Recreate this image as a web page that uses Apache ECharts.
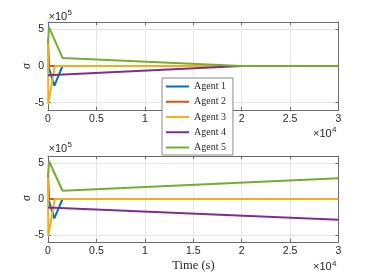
<!DOCTYPE html>
<html><head><meta charset="utf-8">
<script src="https://cdn.jsdelivr.net/npm/echarts@6/dist/echarts.min.js"></script>
<style>html,body{margin:0;padding:0;background:#fff}#c{width:374px;height:280px}</style>
</head><body><div id="c"></div>
<script>
const agentNames = ['Agent 1', 'Agent 2', 'Agent 3', 'Agent 4', 'Agent 5'];
const agentColors = ['#0072BD', '#D95319', '#EDB120', '#7E2F8E', '#77AC30'];
const yTickValues = [-5e5, 0, 5e5];

// Agent 1..3 identical in both panels
const a1Time = [0, 150, 650, 1500, 30000];
const a1Vals = [0, -0.5e5, -2.7e5, 0, 0];
const a2Time = [0, 120, 30000];
const a2Vals = [3.5e5, 0, 0];
const a3Time = [0, 30, 700, 30000];
const a3Vals = [3.8e5, -5.2e5, 0, 0];
// top panel
const a4TimeTop = [0, 20000, 30000];
const a4ValsTop = [-1.25e5, 0, 0];
const a5TimeTop = [0, 100, 1500, 20000, 30000];
const a5ValsTop = [3.0e5, 5.3e5, 1.1e5, 0, 0];
// bottom panel
const a4TimeBottom = [0, 30000];
const a4ValsBottom = [-1.2e5, -2.9e5];
const a5TimeBottom = [0, 100, 1500, 30000];
const a5ValsBottom = [3.0e5, 5.3e5, 1.15e5, 2.9e5];

const pair = (t, v) => t.map((x, i) => [x, v[i]]);
const panels = [
  [pair(a1Time, a1Vals), pair(a2Time, a2Vals), pair(a3Time, a3Vals), pair(a4TimeTop, a4ValsTop), pair(a5TimeTop, a5ValsTop)],
  [pair(a1Time, a1Vals), pair(a2Time, a2Vals), pair(a3Time, a3Vals), pair(a4TimeBottom, a4ValsBottom), pair(a5TimeBottom, a5ValsBottom)]
];

const axisColor = '#6b6b6b';
const labelColor = '#262626';
const gridColor = '#e6e6e6';
const sans = 'Liberation Sans';
const serif = 'Liberation Serif';

const grids = [
  {left: 48, right: 35.5, top: 22, height: 88},
  {left: 48, right: 35.5, top: 156, height: 86}
];
const xAxes = [], yAxes = [], series = [];
grids.forEach((g, gi) => {
  xAxes.push({gridIndex: gi, type: 'value', min: 0, max: 30000, interval: 5000, position: 'bottom',
    axisLine: {show: true, onZero: false, lineStyle: {color: axisColor, width: 1}},
    axisTick: {show: true, inside: true, length: 3, lineStyle: {color: axisColor}},
    axisLabel: {color: labelColor, fontSize: 10.5, fontFamily: sans, margin: 4, formatter: v => String(v / 1e4)},
    splitLine: {show: true, lineStyle: {color: gridColor, width: 1}}});
  xAxes.push({gridIndex: gi, type: 'value', min: 0, max: 30000, interval: 5000, position: 'top',
    axisLine: {show: true, onZero: false, lineStyle: {color: axisColor, width: 1}},
    axisTick: {show: true, inside: true, length: 3, lineStyle: {color: axisColor}},
    axisLabel: {show: false}, splitLine: {show: false}});
  yAxes.push({gridIndex: gi, type: 'value', min: -6e5, max: 6e5, position: 'left',
    axisLine: {show: true, onZero: false, lineStyle: {color: axisColor, width: 1}},
    axisTick: {show: true, inside: true, length: 3, lineStyle: {color: axisColor}, customValues: yTickValues},
    axisLabel: {color: labelColor, fontSize: 10.5, fontFamily: sans, margin: 4, customValues: yTickValues, formatter: v => String(Math.round(v / 1e5))},
    splitLine: {show: true, lineStyle: {color: gridColor, width: 1}}});
  yAxes.push({gridIndex: gi, type: 'value', min: -6e5, max: 6e5, position: 'right',
    axisLine: {show: true, onZero: false, lineStyle: {color: axisColor, width: 1}},
    axisTick: {show: true, inside: true, length: 3, lineStyle: {color: axisColor}, customValues: yTickValues},
    axisLabel: {show: false, customValues: yTickValues}, splitLine: {show: false}});
  panels[gi].forEach((d, si) => {
    series.push({type: 'line', name: agentNames[si], xAxisIndex: gi * 2, yAxisIndex: gi * 2,
      data: d, showSymbol: false, symbol: 'none', animation: false,
      lineStyle: {color: agentColors[si], width: 2}, itemStyle: {color: agentColors[si]}});
  });
});

const txt = (x, y, s, size, font, extra) => Object.assign({type: 'text', x: x, y: y, z: 10,
  style: {text: s, fontSize: size, fontFamily: font, fill: labelColor, textVerticalAlign: 'middle'}}, extra || {});

const chart = echarts.init(document.getElementById('c'), null, {renderer: 'canvas'});
chart.setOption({
  animation: false,
  backgroundColor: '#fff',
  grid: grids,
  xAxis: xAxes,
  yAxis: yAxes,
  series: series,
  legend: {orient: 'vertical', left: 162, top: 78, z: 20, backgroundColor: '#fff', borderColor: '#8a8a8a', borderWidth: 1,
    padding: [2, 7, 1, 4], itemWidth: 23, itemHeight: 2, itemGap: 2.25, icon: 'rect', selectedMode: false,
    textStyle: {fontFamily: serif, fontSize: 10, color: labelColor, lineHeight: 13},
    data: agentNames},
  graphic: [
    txt(48.5, 16.7, '×10', 11, sans),
    txt(67.5, 12.8, '5', 8, sans),
    txt(48.5, 149, '×10', 11, sans),
    txt(67.5, 145, '5', 8, sans),
    txt(313, 134, '×10', 11, sans),
    txt(332, 130, '4', 8, sans),
    txt(313, 267.3, '×10', 11, sans),
    txt(332, 263.3, '4', 8, sans),
    {type: 'text', x: 27, y: 66, rotation: Math.PI / 2, z: 10,
      style: {text: 'σ', fontSize: 12, fontFamily: serif, fontStyle: 'italic', fill: labelColor, textAlign: 'center', textVerticalAlign: 'middle'}},
    {type: 'text', x: 27, y: 198, rotation: Math.PI / 2, z: 10,
      style: {text: 'σ', fontSize: 12, fontFamily: serif, fontStyle: 'italic', fill: labelColor, textAlign: 'center', textVerticalAlign: 'middle'}},
    {type: 'text', x: 193.5, y: 266, z: 10,
      style: {text: 'Time (s)', fontSize: 12.5, fontFamily: serif, fill: labelColor, textAlign: 'center', textVerticalAlign: 'middle'}}
  ]
});
</script></body></html>
